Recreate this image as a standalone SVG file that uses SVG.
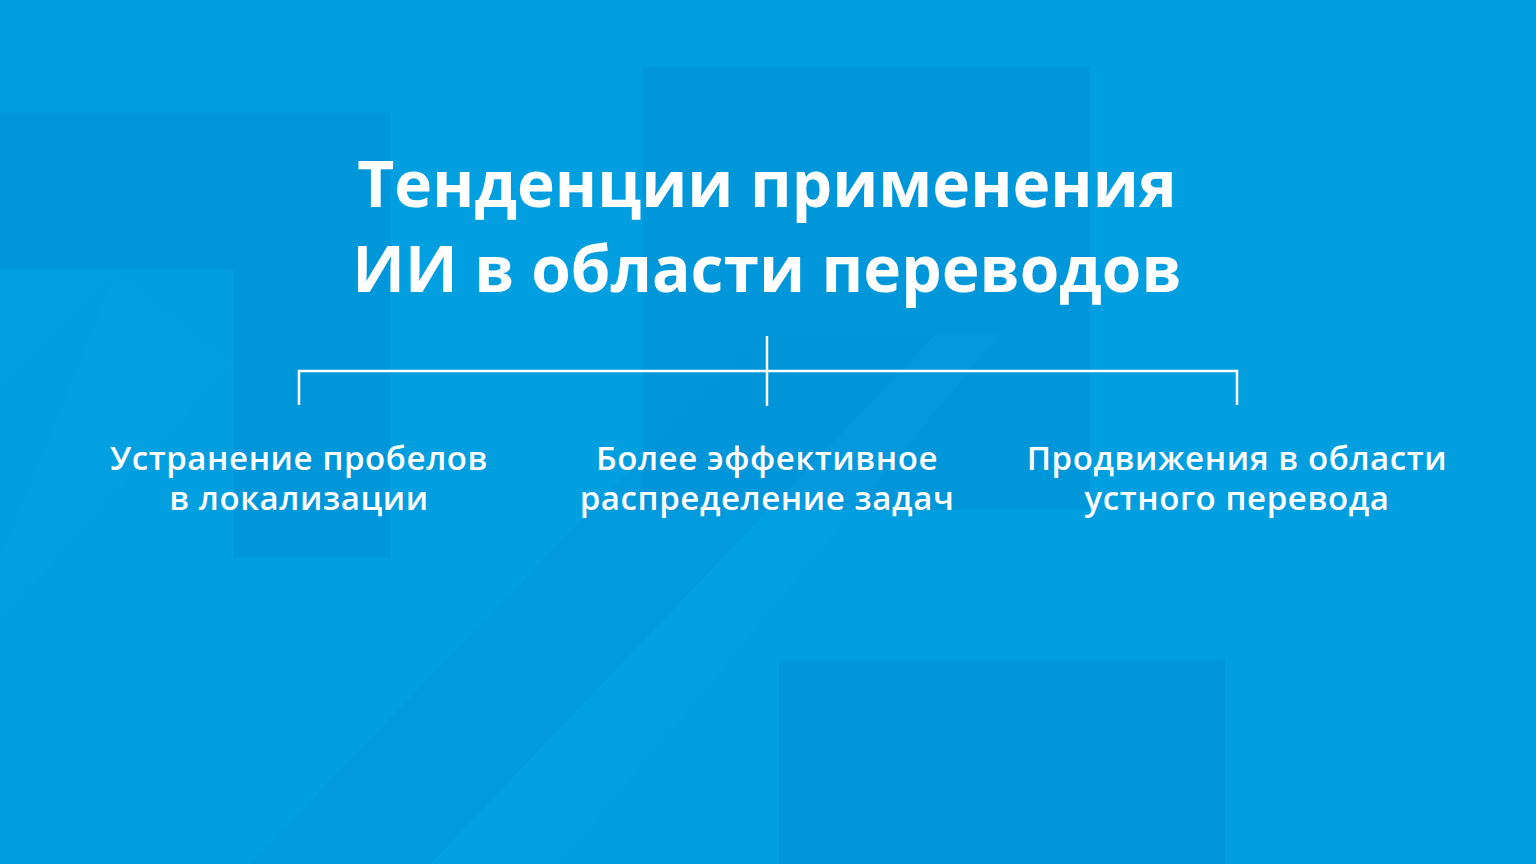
<svg xmlns="http://www.w3.org/2000/svg" width="1536" height="864" viewBox="0 0 1536 864">
  <style>
    .dark { fill: #0090D6; opacity: 0.55; }
    .band { fill: #0090D6; opacity: 0.3; }
    .light { fill: #10A8E8; opacity: 0.18; }
    .title { font-family: "Open Sans", "Noto Sans", "Liberation Sans", sans-serif; font-weight: 700; font-size: 64px; fill: #FFFFFF; text-anchor: middle; }
    .label { font-family: "Open Sans", "Noto Sans", "Liberation Sans", sans-serif; font-weight: 600; font-size: 33px; fill: #FFFFFF; text-anchor: middle; letter-spacing: 0.6px; }
    .conn { stroke: #FFFFFF; stroke-width: 2.5; fill: none; }
  </style>
  <rect x="0" y="0" width="1536" height="864" fill="#019FE0"/>
  <g id="background">
    <rect class="dark" x="0" y="113" width="390" height="157"/>
    <rect class="dark" x="234" y="270" width="156" height="288"/>
    <rect class="dark" x="643" y="66" width="447" height="444"/>
    <rect class="dark" x="779" y="660" width="446" height="204"/>
    <polygon class="light" points="0,270 120,270 0,390"/>
    <polygon class="light" points="0,560 117,270 233,363 0,620"/>
    <polygon class="band" points="250,864 430,864 935,335 760,335"/>
    <polygon class="light" points="430,864 560,864 1000,335 935,335"/>
  </g>
  <g id="title">
    <text class="title" x="767" y="207">Тенденции применения</text>
    <text class="title" x="767" y="292">ИИ в области переводов</text>
  </g>
  <g id="connectors">
    <line class="conn" x1="767" y1="336" x2="767" y2="406"/>
    <polyline class="conn" points="299,405 299,371 1237,371 1237,405"/>
  </g>
  <g id="node1">
    <text class="label" x="299" y="470">Устранение пробелов</text>
    <text class="label" x="299" y="510">в локализации</text>
  </g>
  <g id="node2">
    <text class="label" x="767" y="470">Более эффективное</text>
    <text class="label" x="767" y="510">распределение задач</text>
  </g>
  <g id="node3">
    <text class="label" x="1237" y="470">Продвижения в области</text>
    <text class="label" x="1237" y="510">устного перевода</text>
  </g>
</svg>
